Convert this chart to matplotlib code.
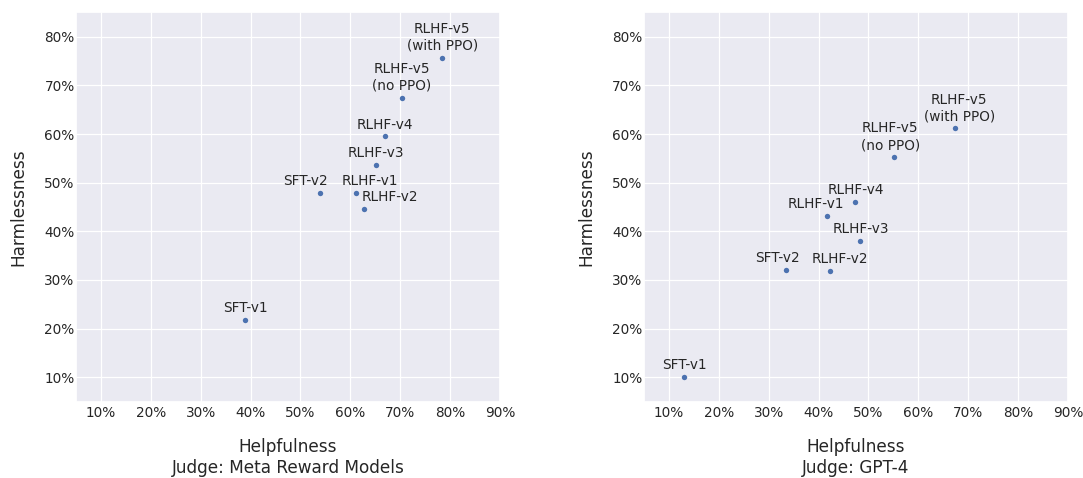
import matplotlib
matplotlib.use('Agg')
import matplotlib.pyplot as plt
import seaborn as sns
from matplotlib.ticker import PercentFormatter, MultipleLocator

models = ['SFT-v1', 'SFT-v2', 'RLHF-v1', 'RLHF-v2', 'RLHF-v3', 'RLHF-v4',
          'RLHF-v5\n(no PPO)', 'RLHF-v5\n(with PPO)']

# judge: meta reward models
help_rm = [38.9, 54.0, 61.2, 62.7, 65.2, 67.0, 70.3, 78.4]
harm_rm = [21.8, 47.8, 47.8, 44.6, 53.6, 59.5, 67.5, 75.7]

# judge: gpt-4
help_gpt = [13.1, 33.5, 41.7, 42.2, 48.4, 47.4, 55.2, 67.4]
harm_gpt = [10.0, 32.1, 43.2, 31.9, 38.1, 46.0, 55.3, 61.2]

judges = ['Meta Reward Models', 'GPT-4']

# horizontal label nudges (points), so labels don't collide
nudge_rm = [0, -11, 9.5, 18.5, 0, 0, 0, 0]
nudge_gpt = [0, -6.5, -8, 7.5, 0, 0, -3, 3]

sns.set_theme(style='darkgrid')
plt.rcParams['font.family'] = ['DejaVu Sans']
txt = '#262626'

fig = plt.figure(figsize=(10.83, 4.78), dpi=100)
ax1 = fig.add_axes([0.0702, 0.160, 0.3915, 0.814])
ax2 = fig.add_axes([0.5946, 0.160, 0.3915, 0.814])

for ax, hx, hy, nudge, judge in [(ax1, help_rm, harm_rm, nudge_rm, judges[0]),
                                 (ax2, help_gpt, harm_gpt, nudge_gpt, judges[1])]:
    ax.scatter(hx, hy, s=15, color='#4c72b0', zorder=3, linewidths=0)
    for name, x, y, dx in zip(models, hx, hy, nudge):
        ax.annotate(name, (x, y), xytext=(dx, 3.5), textcoords='offset points',
                    ha='center', va='bottom', fontsize=9.8, color=txt,
                    linespacing=1.25)
    ax.set_xlim(5, 90)
    ax.set_ylim(5, 85)
    ax.xaxis.set_major_locator(MultipleLocator(10))
    ax.yaxis.set_major_locator(MultipleLocator(10))
    ax.xaxis.set_major_formatter(PercentFormatter(100, decimals=0))
    ax.yaxis.set_major_formatter(PercentFormatter(100, decimals=0))
    ax.grid(True, color='white', linewidth=0.9)
    ax.tick_params(axis='x', length=0, labelsize=9.8, pad=3.5, colors=txt)
    ax.tick_params(axis='y', length=0, labelsize=9.8, pad=1, colors=txt)
    ax.set_xlabel('Helpfulness\nJudge: %s' % judge, fontsize=12.2, color=txt,
                  labelpad=13, linespacing=1.2)
    ax.set_ylabel('Harmlessness', fontsize=12.2, color=txt, labelpad=12)

fig.savefig('out.png', dpi=100)
